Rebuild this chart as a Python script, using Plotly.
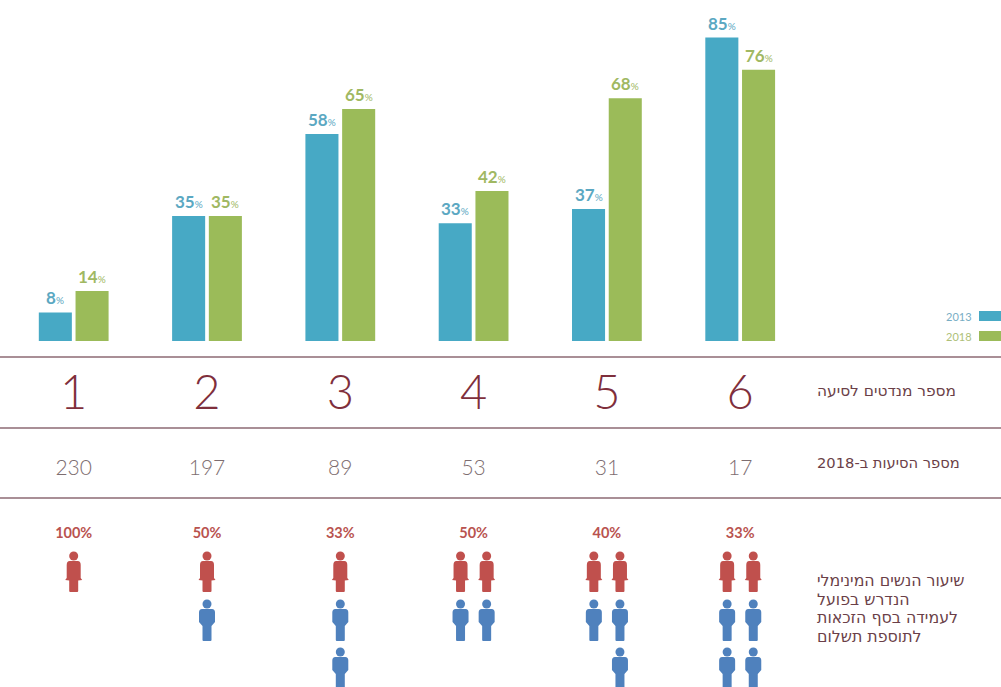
import plotly.graph_objects as go

mandates = [1, 2, 3, 4, 5, 6]
share_2013 = [8, 35, 58, 33, 37, 85]
share_2018 = [14, 35, 65, 42, 68, 76]
factions_2018 = [230, 197, 89, 53, 31, 17]
women_pct = [100, 50, 33, 50, 40, 33]
women_icons = [1, 1, 1, 2, 2, 2]
men_icons = [0, 1, 2, 2, 3, 4]

BLUE, GREEN = "#47a9c5", "#9bbb59"
RED, MBLUE = "#c0504d", "#4f81bd"
W, H = 1001, 687
CENTER0, STEP = 73.7, 133.3
BASE, PXPCT = 341, 3.57


def lab(v):
    return f"<b>{v}</b><span style='font-size:10px'>%</span>"


fig = go.Figure()
for name, vals, col, tcol, shift in [("2013", share_2013, BLUE, "#5ba8c2", -18.4),
                                     ("2018", share_2018, GREEN, "#a0b862", 18.4)]:
    fig.add_trace(go.Bar(x=mandates, y=vals, name=name, marker=dict(color=col, line_width=0), showlegend=False))
    for m, v in zip(mandates, vals):
        fig.add_annotation(x=m, y=v, xref="x", yref="y", xshift=shift, yshift=2, yanchor="bottom", showarrow=False,
                           text=lab(v), font=dict(family="Lato", size=17, color=tcol))

fig.add_trace(go.Scatter(x=mandates, y=[397] * 6, yaxis="y2", mode="text", text=[str(m) for m in mandates],
                         textfont=dict(family="Lato Light, Lato", size=47, color="#7f2f3c", weight=300),
                         showlegend=False))
fig.add_trace(go.Scatter(x=mandates, y=[470] * 6, yaxis="y2", mode="text", text=[str(v) for v in factions_2018],
                         textfont=dict(family="Lato Light, Lato", size=21, color="#7d6d70", weight=300),
                         showlegend=False))
fig.add_trace(go.Scatter(x=mandates, y=[534] * 6, yaxis="y2", mode="text", text=[f"<b>{v}%</b>" for v in women_pct],
                         textfont=dict(family="Lato", size=14.5, color="#b9534f"), showlegend=False))

WOMAN_ROW, MAN_ROWS = 573, [620, 668]
WOMAN = ("M-4,12 C-6,12 -7,10.5 -7,8 L-7,-5 L-8.5,-7 L-4.5,-7.5 L-4.5,-18 Q-4.5,-19 -3.5,-19 L3.5,-19 "
         "Q4.5,-19 4.5,-18 L4.5,-7.5 L8.5,-7 L7,-5 L7,8 C7,10.5 6,12 4,12 Z")
MAN = ("M-5,11 C-7,11 -8,9.5 -8,7.5 L-8,-2 L-4.5,-6 L-4.5,-20 Q-4.5,-21 -3.5,-21 L3.5,-21 "
       "Q4.5,-21 4.5,-20 L4.5,-6 L8,-2 L8,7.5 C8,9.5 7,11 5,11 Z")
OFF = 0.098
head_x, head_y, head_c = [], [], []


def person(x, y, path, col):
    fig.add_shape(type="path", path=path, xref="x", yref="y2", xsizemode="pixel", ysizemode="pixel",
                  xanchor=x, yanchor=y, fillcolor=col, line_width=0, layer="above")
    head_x.append(x)
    head_y.append(y + (-17 if path is WOMAN else -16))
    head_c.append(col)


for m, nw, nm in zip(mandates, women_icons, men_icons):
    xs = [m] if nw == 1 and nm <= 2 else [m - OFF, m + OFF]
    for i in range(nw):
        person(xs[i], WOMAN_ROW, WOMAN, RED)
    for i in range(nm):
        if len(xs) == 1:
            person(xs[0], MAN_ROWS[i], MAN, MBLUE)
        else:
            person(xs[i % 2] if nm != 3 or i < 2 else xs[1], MAN_ROWS[i // 2], MAN, MBLUE)

fig.add_trace(go.Scatter(x=head_x, y=head_y, yaxis="y2", mode="markers",
                         marker=dict(size=9, color=head_c, line_width=0), showlegend=False, cliponaxis=False))

for y in (357, 428, 498):
    fig.add_shape(type="line", xref="paper", x0=0, x1=1, yref="y2", y0=y, y1=y,
                  line=dict(color="#8d6a73", width=1.4), layer="below")

for y, col, txt, tcol in [(316, BLUE, "2013", "#78adc4"), (336, GREEN, "2018", "#aebf78")]:
    fig.add_shape(type="rect", xref="paper", x0=979 / W, x1=1, yref="y2", y0=y - 5, y1=y + 5,
                  fillcolor=col, line_width=0)
    fig.add_annotation(xref="paper", x=974 / W, yref="y2", y=y + 0.5, text=txt, showarrow=False, xanchor="right",
                       font=dict(family="Lato", size=11, color=tcol))

TXT = dict(family="DejaVu Sans", color="#6b3f48")
for y, size, txt in [(391, 15.4, "מספר מנדטים לסיעה"), (462, 14.7, "מספר הסיעות ב-2018"),
                     (580, 15.8, "שיעור הנשים המינימלי"), (599, 15.8, "הנדרש בפועל"),
                     (617, 15.8, "לעמידה בסף הזכאות"), (636, 15.8, "לתוספת תשלום")]:
    fig.add_annotation(xref="paper", x=815 / W, yref="y2", y=y, text=txt, showarrow=False, xanchor="left",
                       font=dict(size=size, **TXT))

fig.update_layout(
    width=W, height=H, margin=dict(l=0, r=0, t=0, b=0), paper_bgcolor="white", plot_bgcolor="white",
    barmode="group", bargap=0.449, bargroupgap=0.1, showlegend=False,
    xaxis=dict(range=[1 - CENTER0 / STEP, 1 + (W - CENTER0) / STEP], visible=False),
    yaxis=dict(range=[-(H - BASE) / PXPCT, BASE / PXPCT], visible=False),
    yaxis2=dict(range=[H, 0], overlaying="y", visible=False),
)
fig.write_html("out.html", config={"displayModeBar": False},
               post_script="document.body.style.margin='0';document.body.style.overflow='hidden';")
